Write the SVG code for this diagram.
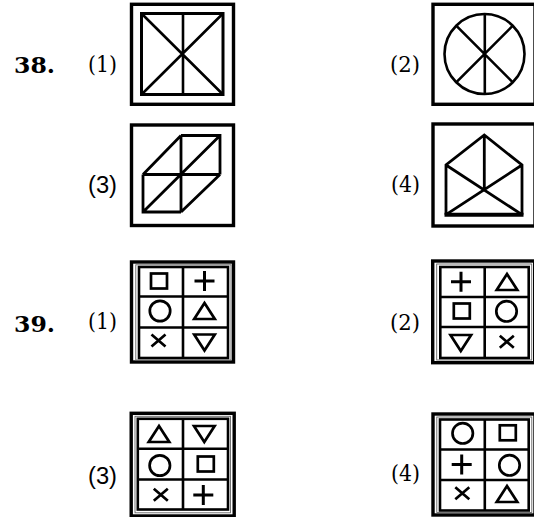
<svg xmlns="http://www.w3.org/2000/svg" xmlns:xlink="http://www.w3.org/1999/xlink" width="534" height="517" viewBox="0 0 534 517">
<style>
.box{fill:none;stroke:#000;stroke-width:3.4}
.thin{fill:none;stroke:#666;stroke-width:0.9}
.ln{fill:none;stroke:#000;stroke-width:2.6;stroke-linecap:butt}
.grid{fill:none;stroke:#000;stroke-width:2.6}
.sym{fill:none;stroke:#000;stroke-width:2.7}
.num{font-family:"DejaVu Serif",serif;font-weight:bold;font-size:22px;fill:#000}
.lab{font-family:"DejaVu Serif",serif;font-size:23px;fill:#000}
.labs{font-family:"Liberation Sans",sans-serif;font-size:23px;fill:#000}
</style>
<defs>
<rect id="sq" class="sym" x="-8" y="-7.5" width="16" height="15"/>
<path id="pl" class="sym" d="M-10,0H10M0,-10V10" style="stroke-width:3"/>
<circle id="ci" class="sym" r="10.2"/>
<path id="tu" class="sym" d="M0,-8L10.3,8H-10.3Z"/>
<path id="td" class="sym" d="M-10.3,-8H10.3L0,8Z"/>
<path id="xx" class="sym" d="M-7,-6L7,6M7,-6L-7,6"/>
</defs>

<g id="labels">
<text class="num" x="14" y="73" textLength="41" lengthAdjust="spacingAndGlyphs">38.</text>
<text class="num" x="14" y="331.5" textLength="41" lengthAdjust="spacingAndGlyphs">39.</text>
<text class="lab" x="88" y="72" textLength="29" lengthAdjust="spacingAndGlyphs">(1)</text>
<text class="lab" x="390" y="72" textLength="30" lengthAdjust="spacingAndGlyphs">(2)</text>
<text class="labs" x="88" y="193" textLength="29" lengthAdjust="spacingAndGlyphs">(3)</text>
<text class="lab" x="391" y="192" textLength="29" lengthAdjust="spacingAndGlyphs">(4)</text>
<text class="lab" x="88" y="329" textLength="29" lengthAdjust="spacingAndGlyphs">(1)</text>
<text class="lab" x="390" y="330" textLength="30" lengthAdjust="spacingAndGlyphs">(2)</text>
<text class="labs" x="88" y="484" textLength="29" lengthAdjust="spacingAndGlyphs">(3)</text>
<text class="lab" x="391" y="481" textLength="29" lengthAdjust="spacingAndGlyphs">(4)</text>
</g>

<g id="q38-1">
<rect class="box" x="131.5" y="4.3" width="102" height="100"/>
<rect class="ln" x="141.5" y="13.5" width="81.5" height="81" style="stroke-width:3"/>
<path class="ln" d="M183,13.5V94.5M141.5,13.5L223,94.5M223,13.5L141.5,94.5"/>
</g>

<g id="q38-2">
<rect class="box" x="433" y="4.3" width="102" height="100"/>
<circle class="ln" cx="484.5" cy="54" r="40"/>
<path class="ln" d="M484.8,14V94M456.2,25.7L512.8,82.3M512.8,25.7L456.2,82.3"/>
</g>

<g id="q38-3">
<rect class="box" x="131.5" y="125" width="102" height="100.5"/>
<path class="ln" d="M181,135.5H220V174.5M143,174.5H220M143,174.5V212H181M181,135.5V212M143,174.5L181,135.5M181,212L220,174.5M143,212L220,135.5" style="stroke-width:2.8"/>
</g>

<g id="q38-4">
<rect class="box" x="433" y="124" width="102" height="102"/>
<path class="ln" d="M446,214.7V165L484.3,135L522,165V214.7M484.3,135V190M446,165L522,214.7M522,165L446,214.7" style="stroke-width:2.8"/>
<path class="ln" d="M444.5,214.7H523.5" style="stroke-width:4"/>
</g>

<g id="q39-1">
<rect class="box" x="131.5" y="262" width="102" height="100"/>
<rect class="thin" x="135.8" y="264.8" width="95.2" height="95.2"/>
<rect class="grid" x="139" y="267" width="89" height="91"/>
<path class="grid" d="M183,267V358M139,296.5H228M139,327.5H228"/>
<use xlink:href="#sq" x="159" y="281"/>
<use xlink:href="#pl" x="204.5" y="281"/>
<use xlink:href="#ci" x="160" y="311"/>
<use xlink:href="#tu" x="204.5" y="311"/>
<use xlink:href="#xx" x="158.5" y="340.5"/>
<use xlink:href="#td" x="204.5" y="342.5"/>
</g>

<g id="q39-2">
<rect class="box" x="432.7" y="261" width="102" height="101.7"/>
<rect class="thin" x="436.7" y="264" width="95" height="96"/>
<rect class="grid" x="440.3" y="267" width="88.4" height="91"/>
<path class="grid" d="M484.7,267V358M440.3,297H528.7M440.3,327H528.7"/>
<use xlink:href="#pl" x="461" y="281.7"/>
<use xlink:href="#tu" x="507" y="282"/>
<use xlink:href="#sq" x="461.8" y="311"/>
<use xlink:href="#ci" x="506.5" y="311.3"/>
<use xlink:href="#td" x="460.8" y="343"/>
<use xlink:href="#xx" x="506.8" y="341.7"/>
</g>

<g id="q39-3">
<rect class="box" x="131.2" y="413.3" width="103" height="102.7"/>
<rect class="thin" x="135" y="416.3" width="95.5" height="96.5"/>
<rect class="grid" x="137.8" y="418.8" width="90.2" height="90.7"/>
<path class="grid" d="M183,418.8V509.5M137.8,448.8H228M137.8,479.5H228"/>
<use xlink:href="#tu" x="159" y="434"/>
<use xlink:href="#td" x="204.3" y="434"/>
<use xlink:href="#ci" x="159.8" y="465.5"/>
<use xlink:href="#sq" x="205.8" y="464"/>
<use xlink:href="#xx" x="160.8" y="494.7"/>
<use xlink:href="#pl" x="203.3" y="495"/>
</g>

<g id="q39-4">
<rect class="box" x="433" y="414" width="102" height="101"/>
<rect class="thin" x="436.8" y="417" width="95" height="95.5"/>
<rect class="grid" x="440" y="419.5" width="88.7" height="91"/>
<path class="grid" d="M484.8,419.5V510.5M440,449.5H528.7M440,480H528.7"/>
<use xlink:href="#ci" x="462.7" y="433.3"/>
<use xlink:href="#sq" x="507.8" y="432.8"/>
<use xlink:href="#pl" x="461.7" y="464.5"/>
<use xlink:href="#ci" x="509.5" y="465.3"/>
<use xlink:href="#xx" x="462.3" y="493.3"/>
<use xlink:href="#tu" x="507" y="494"/>
</g>
</svg>
